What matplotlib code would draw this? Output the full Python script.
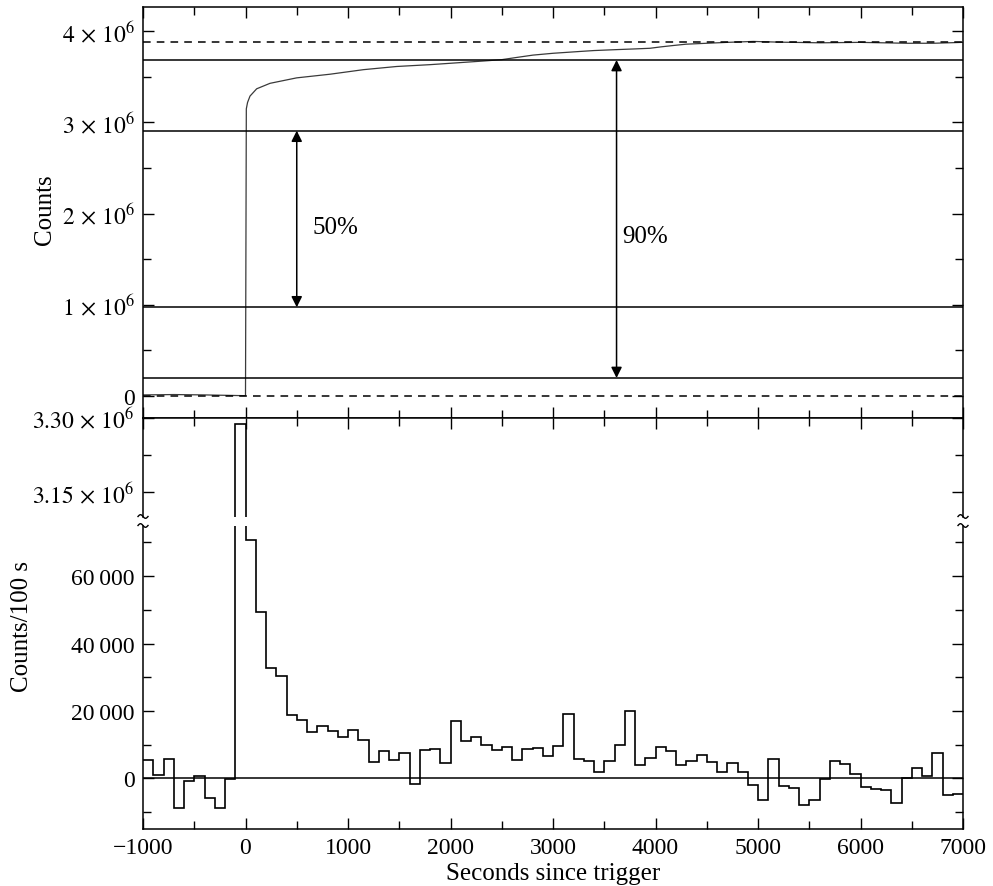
import numpy as np
import matplotlib
matplotlib.use('Agg')
import matplotlib.pyplot as plt
from matplotlib.lines import Line2D
from matplotlib.ticker import MultipleLocator

plt.rcParams['font.family'] = ['Liberation Serif', 'DejaVu Serif']
plt.rcParams['mathtext.fontset'] = 'stix'

# light curve, 100 s bins from -1000 to 7000 s
t_edges = np.arange(-1000, 7001, 100)
counts = [5400, 1100, 5700, -8800, -700, 800, -5900, -8800, -200, 3286000,
          70700, 49400, 32600, 30300, 18750, 17300, 13900, 15600, 14000, 12300,
          14400, 11400, 4900, 8000, 5500, 7600, -1800, 8500, 8600, 4500,
          17000, 11000, 12200, 9900, 8400, 9300, 5600, 8700, 8900, 6500,
          9500, 19000, 5800, 5300, 1800, 5100, 9900, 19900, 4000, 6100,
          9200, 8100, 3900, 5200, 6900, 4900, 2000, 4500, 1900, -2000,
          -6400, 5700, -2300, -2800, -8000, -6300, -300, 5200, 4200, 1300,
          -2600, -3200, -3400, -7400, 0, 3000, 800, 7600, -5000, -4600]

# cumulative counts
cum_t = [-1000, -700, -400, -20, 0, 8, 20, 44, 109, 239, 369, 499, 824, 1150,
         1475, 1800, 2125, 2320, 2500, 2650, 2805, 3000, 3263, 3400, 3615,
         3800, 3946, 4050, 4170, 4300, 4500, 4700, 4955, 5215, 5345, 5605,
         5995, 6450, 6710, 7000]
cum_v = [0.008e6, 0.012e6, 0.008e6, 0.0, 0.0, 3.15e6, 3.22e6, 3.29e6, 3.37e6,
         3.43e6, 3.46e6, 3.49e6, 3.53e6, 3.58e6, 3.615e6, 3.635e6, 3.66e6,
         3.675e6, 3.69e6, 3.715e6, 3.74e6, 3.76e6, 3.78e6, 3.79e6, 3.80e6,
         3.808e6, 3.815e6, 3.83e6, 3.845e6, 3.86e6, 3.87e6, 3.88e6, 3.89e6,
         3.882e6, 3.88e6, 3.875e6, 3.88e6, 3.87e6, 3.87e6, 3.88e6]

dashed_levels = [0.0, 3.88e6]
solid_levels = [0.194e6, 0.97e6, 2.91e6, 3.686e6]
arrows = [(500, 0.97e6, 2.91e6, '50%', 880, 1.85e6),
          (3620, 0.194e6, 3.686e6, '90%', 3900, 1.75e6)]

x_ticks = [-1000, 0, 1000, 2000, 3000, 4000, 5000, 6000, 7000]
x_labels = ['\u22121000', '0', '1000', '2000', '3000', '4000', '5000', '6000', '7000']
top_ticks = [0, 1e6, 2e6, 3e6, 4e6]
top_labels = ['0', r'$1\,\times\,10^{6}$', r'$2\,\times\,10^{6}$',
              r'$3\,\times\,10^{6}$', r'$4\,\times\,10^{6}$']
mid_ticks = [3.15e6, 3.30e6]
mid_labels = [r'$3.15\,\times\,10^{6}$', r'$3.30\,\times\,10^{6}$']
bot_ticks = [0, 20000, 40000, 60000]
bot_labels = ['0', '20\u2009000', '40\u2009000', '60\u2009000']

W, H = 993, 887
fig = plt.figure(figsize=(W / 100, H / 100), dpi=100)


def px_axes(y0, y1):
    return fig.add_axes([143 / W, 1 - y1 / H, 820 / W, (y1 - y0) / H])


ax_top = px_axes(8.3, 418.5)
ax_mid = px_axes(418.5, 517.5)
ax_bot = px_axes(526.5, 830)

for ax in (ax_top, ax_mid, ax_bot):
    ax.set_xlim(-1000, 7000)
    ax.set_xticks(x_ticks)
    ax.xaxis.set_minor_locator(MultipleLocator(500))
    ax.tick_params(which='both', direction='in', top=True, right=True,
                   labelsize=17, width=1, pad=6)
    ax.tick_params(which='major', length=8)
    ax.tick_params(which='minor', length=6)
    for s in ax.spines.values():
        s.set_linewidth(1.1)

# upper panel
ax_top.set_ylim(-0.24e6, 4.265e6)
ax_top.set_yticks(top_ticks, top_labels)
ax_top.yaxis.set_minor_locator(MultipleLocator(0.5e6))
ax_top.tick_params(labelbottom=False)
ax_top.plot(cum_t, cum_v, color='#3a3a3a', lw=0.9)
for lv in dashed_levels:
    ax_top.axhline(lv, color='k', lw=1.1, ls=(0, (5, 4)))
for lv in solid_levels:
    ax_top.axhline(lv, color='k', lw=1.1)
for x, y0, y1, txt, tx, ty in arrows:
    ax_top.annotate('', xy=(x, y0), xytext=(x, y1),
                    arrowprops=dict(arrowstyle='<|-|>', color='k', lw=1.1,
                                    mutation_scale=16, shrinkA=0, shrinkB=0))
    ax_top.text(tx, ty, txt, fontsize=18, ha='center', va='center')

# middle (broken) panel
ax_mid.set_ylim(3.10e6, 3.30e6)
ax_mid.set_yticks(mid_ticks, mid_labels)
ax_mid.set_yticks([3.225e6], minor=True)
ax_mid.spines['bottom'].set_visible(False)
ax_mid.tick_params(which='both', bottom=False, labelbottom=False)
ax_mid.stairs(counts, t_edges, baseline=None, color='k', lw=1.2)

# lower panel
ax_bot.set_ylim(-15000, 75000)
ax_bot.set_yticks(bot_ticks, bot_labels)
ax_bot.yaxis.set_minor_locator(MultipleLocator(10000))
ax_bot.spines['top'].set_visible(False)
ax_bot.tick_params(which='both', top=False)
ax_bot.set_xticks(x_ticks, x_labels)
ax_bot.stairs(counts, t_edges, baseline=None, color='k', lw=1.2)
ax_bot.axhline(0, color='k', lw=1.1)

# axis break marks
s = np.linspace(-1, 1, 25)
for xp in (143, 963):
    for yp in (517.5, 526.5):
        fig.add_artist(Line2D((xp + 5 * s) / W, 1 - (yp + 1.8 * np.sin(np.pi * s)) / H,
                              transform=fig.transFigure, color='k', lw=1))

fig.text(45 / W, 1 - 210 / H, 'Counts', rotation=90, ha='center', va='center', fontsize=18)
fig.text(22 / W, 1 - 627 / H, 'Counts/100 s', rotation=90, ha='center', va='center', fontsize=18)
fig.text(553 / W, 1 - 874 / H, 'Seconds since trigger', ha='center', va='center', fontsize=18)

fig.savefig('out.png', dpi=100)
